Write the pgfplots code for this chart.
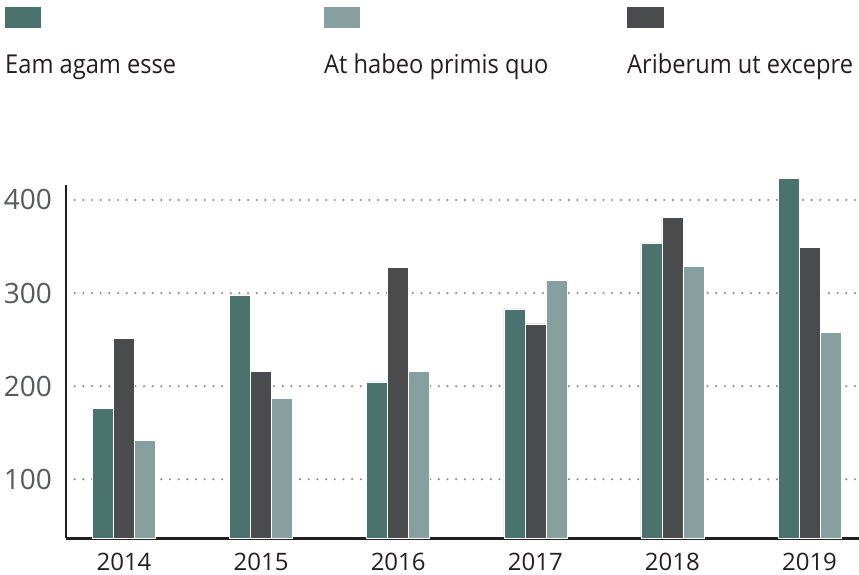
\documentclass[border=0pt]{standalone}
\usepackage{fontspec}
\setmainfont{Open Sans}
\newfontfamily\legfont[FakeStretch=0.91]{Open Sans}
\usepackage{pgfplots}
\pgfplotsset{compat=1.18}

\definecolor{cGreen}{HTML}{4A736E}
\definecolor{cLight}{HTML}{85A09E}
\definecolor{cDark}{HTML}{4A4B4D}
\definecolor{axisc}{HTML}{231F20}
\definecolor{tickc}{HTML}{58595B}
\definecolor{gridc}{HTML}{8C8C8C}

\begin{document}
\begin{tikzpicture}
\begin{axis}[
  scale only axis, width=793pt, height=360pt,
  xmin=-0.423, xmax=5.361, ymin=36.6, ymax=423.3,
  axis x line=bottom, axis y line=left,
  axis line style={-, line width=2.5pt, color=axisc},
  y axis line style={shorten >=7pt},
  xtick={0,1,2,3,4,5},
  xticklabels={2014,2015,2016,2017,2018,2019},
  ytick={100,200,300,400},
  major tick length=0pt,
  ymajorgrids,
  grid style={line width=2.4pt, dash pattern=on 0pt off 8.67pt, line cap=round, color=gridc},
  ybar, bar width=0.153,
  /pgf/number format/assume math mode=true,
  /pgf/number format/1000 sep={},
  yticklabel style={font=\fontsize{28}{32}\selectfont, text=tickc, inner sep=0pt, xshift=-14pt},
  xticklabel style={font=\fontsize{24}{28}\selectfont, text=axisc, inner sep=0pt, yshift=-15pt},
]
% Eam agam esse
\addplot[fill=cGreen, draw=white, line width=0.5pt, bar shift=-0.153] coordinates {
  (0,176)(1,298)(2,204.5)(3,283)(4,354)(5,423)};
% Ariberum ut excepre
\addplot[fill=cDark, draw=white, line width=0.5pt, bar shift=0] coordinates {
  (0,251)(1,215.6)(2,328)(3,267)(4,381)(5,349)};
% At habeo primis quo
\addplot[fill=cLight, draw=white, line width=0.5pt, bar shift=0.153] coordinates {
  (0,141.5)(1,186.6)(2,215.6)(3,314)(4,329)(5,257.5)};
\coordinate (O) at (rel axis cs:0,0);
\end{axis}

\begin{scope}[shift={(O)}, xshift=-66pt, yshift=538.3pt, x=1pt, y=-1pt]
  \fill[cGreen] (5,7) rectangle (41,28);
  \fill[cLight] (324,7) rectangle (360,28);
  \fill[cDark] (627,7) rectangle (664,28);
  \node[anchor=base west, inner sep=0pt, text=axisc, font=\legfont\fontsize{26}{30}\selectfont] at (5,74) {Eam agam esse};
  \node[anchor=base west, inner sep=0pt, text=axisc, font=\legfont\fontsize{26}{30}\selectfont] at (324,74) {At habeo primis quo};
  \node[anchor=base west, inner sep=0pt, text=axisc, font=\legfont\fontsize{26}{30}\selectfont] at (627,74) {Ariberum ut excepre};
  \pgfresetboundingbox
  \path[use as bounding box] (0,0) rectangle (859,575);
\end{scope}
\end{tikzpicture}
\end{document}
